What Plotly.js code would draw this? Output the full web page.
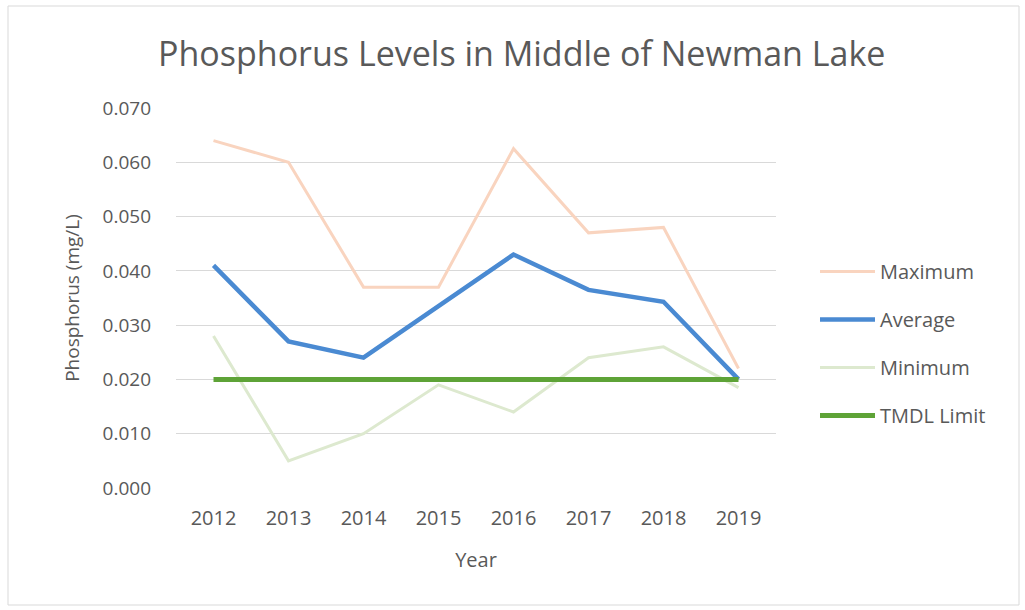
<!DOCTYPE html>
<html>
<head>
<meta charset="utf-8">
<script src="https://cdn.plot.ly/plotly-3.0.1.min.js"></script>
<style>
  html, body { margin: 0; padding: 0; background: #ffffff; }
  #chart { width: 1025px; height: 610px; }
</style>
</head>
<body>
<div id="chart"></div>
<script>
const years = ['2012', '2013', '2014', '2015', '2016', '2017', '2018', '2019'];
const maximum = [0.064, 0.060, 0.037, 0.037, 0.0625, 0.047, 0.048, 0.022];
const average = [0.041, 0.027, 0.024, 0.0335, 0.043, 0.0365, 0.0343, 0.020];
const minimum = [0.028, 0.005, 0.010, 0.019, 0.014, 0.024, 0.026, 0.0185];
const tmdl = [0.020, 0.020, 0.020, 0.020, 0.020, 0.020, 0.020, 0.020];
const yTicks = [0, 0.01, 0.02, 0.03, 0.04, 0.05, 0.06, 0.07];
const yTickLabels = ['0.000', '0.010', '0.020', '0.030', '0.040', '0.050', '0.060', '0.070'];

const font = 'Open Sans, Noto Sans, sans-serif';
const grey = '#595959';

const traces = [
  { x: years, y: maximum, name: 'Maximum', legendgroup: 'a', mode: 'lines', line: { color: '#f9d4bf', width: 3 } },
  { x: years, y: average, name: 'Average', legendgroup: 'b', mode: 'lines', line: { color: '#4a8ad2', width: 4.5 } },
  { x: years, y: minimum, name: 'Minimum', legendgroup: 'c', mode: 'lines', line: { color: '#dde9cf', width: 3 } },
  { x: years, y: tmdl, name: 'TMDL Limit', legendgroup: 'd', mode: 'lines', line: { color: '#5ea337', width: 5 } }
];

const layout = {
  width: 1025,
  height: 610,
  margin: { l: 176, r: 249, t: 108, b: 122 },
  paper_bgcolor: '#ffffff',
  plot_bgcolor: '#ffffff',
  font: { family: font, color: grey },
  title: {
    text: 'Phosphorus Levels in Middle of Newman Lake',
    font: { family: font, size: 34, color: grey },
    x: 0.509, xanchor: 'center',
    y: 0.912, yanchor: 'middle'
  },
  xaxis: {
    type: 'category',
    range: [-0.5, 7.5],
    showgrid: false,
    zeroline: false,
    showline: false,
    ticks: '',
    ticklabelstandoff: 16,
    tickfont: { family: font, size: 20, color: grey },
    title: { text: 'Year', font: { family: font, size: 20, color: grey }, standoff: 22 },
    fixedrange: true
  },
  yaxis: {
    range: [0, 0.07],
    tickvals: yTicks,
    ticktext: yTickLabels,
    showgrid: true,
    gridcolor: '#d9d9d9',
    gridwidth: 1,
    zeroline: false,
    showline: false,
    ticks: '',
    ticklabelstandoff: 24,
    tickfont: { family: font, size: 19, color: grey },
    title: { text: 'Phosphorus (mg/L)', font: { family: font, size: 19, color: grey }, standoff: 17 },
    fixedrange: true
  },
  legend: {
    x: 1.065, xanchor: 'left',
    y: 0.38, yanchor: 'middle',
    font: { family: font, size: 20, color: grey },
    tracegroupgap: 19,
    itemwidth: 55,
    bgcolor: 'rgba(0,0,0,0)'
  },
  shapes: [
    { type: 'rect', xref: 'paper', yref: 'paper',
      x0: (8 - 176) / 600, x1: (1019 - 176) / 600,
      y0: (488 - 605) / 380, y1: (488 - 6) / 380,
      line: { color: '#d9d9d9', width: 1 }, fillcolor: 'rgba(0,0,0,0)', layer: 'below' }
  ],
  showlegend: true
};

Plotly.newPlot('chart', traces, layout, { staticPlot: true, displayModeBar: false });
</script>
</body>
</html>
